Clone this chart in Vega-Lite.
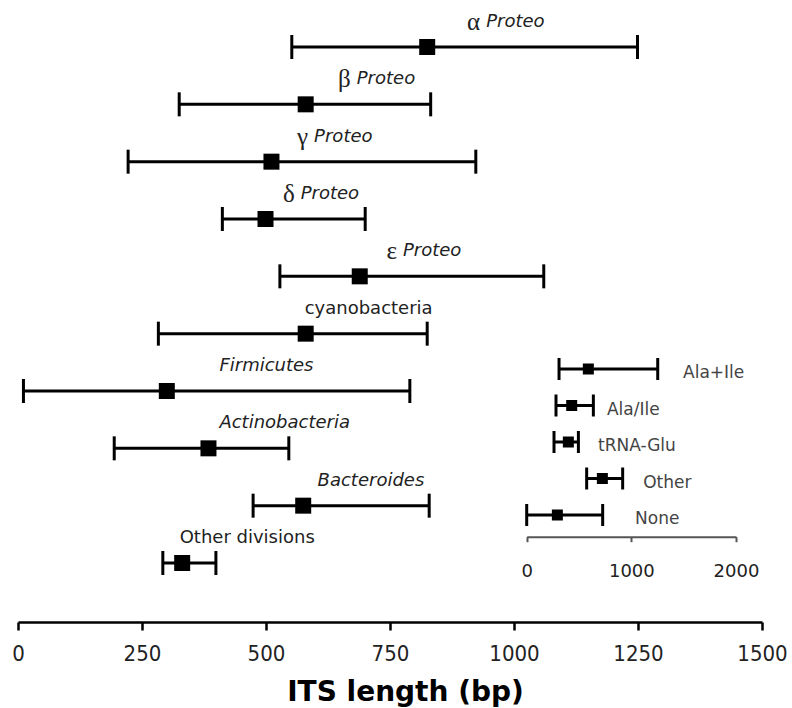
{
  "$schema": "https://vega.github.io/schema/vega-lite/v6.json",
  "width": 744,
  "height": 622,
  "autosize": {"type": "none"},
  "padding": {"left": 18, "top": 0, "right": 30, "bottom": 86},
  "background": "white",
  "config": {
    "view": {"stroke": null},
    "axis": {"grid": false}
  },
  "datasets": {
    "main": [
      {"group": "α Proteo", "greek": "α", "label": "Proteo", "low": 552, "mid": 825, "high": 1249, "lx": 944},
      {"group": "β Proteo", "greek": "β", "label": "Proteo", "low": 325, "mid": 580, "high": 832, "lx": 683},
      {"group": "γ Proteo", "greek": "γ", "label": "Proteo", "low": 222, "mid": 511, "high": 923, "lx": 597},
      {"group": "δ Proteo", "greek": "δ", "label": "Proteo", "low": 412, "mid": 499, "high": 700, "lx": 570},
      {"group": "ε Proteo", "greek": "ε", "label": "Proteo", "low": 528, "mid": 689, "high": 1060, "lx": 776},
      {"group": "cyanobacteria", "label": "cyanobacteria", "low": 283, "mid": 580, "high": 825, "lx": 578},
      {"group": "Firmicutes", "label": "Firmicutes", "low": 11, "mid": 300, "high": 790, "lx": 406},
      {"group": "Actinobacteria", "label": "Actinobacteria", "low": 194, "mid": 384, "high": 546, "lx": 406},
      {"group": "Bacteroides", "label": "Bacteroides", "low": 474, "mid": 575, "high": 829, "lx": 604},
      {"group": "Other divisions", "label": "Other divisions", "low": 292, "mid": 331, "high": 399, "lx": 326}
    ],
    "inset": [
      {"group": "Ala+Ile", "low": 309, "mid": 589, "high": 1252, "lx": 1494},
      {"group": "Ala/Ile", "low": 280, "mid": 430, "high": 637, "lx": 767},
      {"group": "tRNA-Glu", "low": 261, "mid": 398, "high": 494, "lx": 681},
      {"group": "Other", "low": 573, "mid": 723, "high": 917, "lx": 1113},
      {"group": "None", "low": 0, "mid": 293, "high": 726, "lx": 1035}
    ]
  },
  "layer": [
    {
      "data": {"name": "main"},
      "encoding": {
        "y": {"field": "group", "type": "nominal", "sort": null, "axis": null,
              "scale": {"type": "point", "range": [47, 563], "padding": 0}}
      },
      "layer": [
        {
          "mark": {"type": "rule", "color": "black", "strokeWidth": 3},
          "encoding": {
            "x": {"field": "low", "type": "quantitative",
                  "scale": {"domain": [0, 1500], "nice": false, "zero": false},
                  "axis": {
                    "values": [0, 250, 500, 750, 1000, 1250, 1500],
                    "format": "d",
                    "title": "ITS length (bp)",
                    "domainColor": "black", "domainWidth": 2.5,
                    "tickColor": "black", "tickWidth": 2.5, "tickSize": 8,
                    "labelFont": "DejaVu Sans Condensed, DejaVu Sans", "labelFontSize": 22,
                    "labelColor": "#222", "labelPadding": 13,
                    "labelFlush": false, "labelOverlap": false,
                    "titleFont": "DejaVu Sans", "titleFontWeight": "bold", "titleFontSize": 28,
                    "titleColor": "black", "titlePadding": 14, "titleX": 387
                  }},
            "x2": {"field": "high"}
          }
        },
        {
          "mark": {"type": "tick", "color": "black", "thickness": 3, "size": 24, "orient": "vertical", "opacity": 1},
          "encoding": {"x": {"field": "low", "type": "quantitative"}}
        },
        {
          "mark": {"type": "tick", "color": "black", "thickness": 3, "size": 24, "orient": "vertical", "opacity": 1},
          "encoding": {"x": {"field": "high", "type": "quantitative"}}
        },
        {
          "mark": {"type": "square", "color": "black", "filled": true, "size": 256, "opacity": 1},
          "encoding": {"x": {"field": "mid", "type": "quantitative"}}
        },
        {
          "transform": [{"filter": "isValid(datum.greek)"}],
          "mark": {"type": "text", "align": "right", "baseline": "middle", "dx": -6, "dy": -25,
                   "font": "Liberation Serif", "fontSize": 25, "color": "#222"},
          "encoding": {"x": {"field": "lx", "type": "quantitative"}, "text": {"field": "greek"}}
        },
        {
          "transform": [{"filter": {"field": "label", "oneOf": ["Proteo", "Firmicutes", "Actinobacteria", "Bacteroides"]}}],
          "mark": {"type": "text", "align": "left", "baseline": "middle", "dy": -25,
                   "font": "DejaVu Sans", "fontStyle": "italic", "fontSize": 18, "color": "#222"},
          "encoding": {"x": {"field": "lx", "type": "quantitative"}, "text": {"field": "label"}}
        },
        {
          "transform": [{"filter": {"field": "label", "oneOf": ["cyanobacteria", "Other divisions"]}}],
          "mark": {"type": "text", "align": "left", "baseline": "middle", "dy": -25,
                   "font": "DejaVu Sans", "fontSize": 18, "color": "#222"},
          "encoding": {"x": {"field": "lx", "type": "quantitative"}, "text": {"field": "label"}}
        }
      ]
    },
    {
      "data": {"name": "inset"},
      "encoding": {
        "y": {"field": "group", "type": "nominal", "sort": null, "axis": null,
              "scale": {"type": "point", "range": [369, 515], "padding": 0}}
      },
      "layer": [
        {
          "mark": {"type": "rule", "color": "black", "strokeWidth": 3},
          "encoding": {
            "x": {"field": "low", "type": "quantitative",
                  "scale": {"domain": [0, 2000], "range": [508.7, 718], "nice": false, "zero": false},
                  "axis": {
                    "orient": "bottom", "offset": -85.3,
                    "values": [0, 1000, 2000], "format": "d", "title": null,
                    "domainColor": "#555", "domainWidth": 2,
                    "tickColor": "#555", "tickWidth": 2, "tickSize": 5,
                    "labelFont": "DejaVu Sans", "labelFontSize": 18,
                    "labelColor": "#222", "labelPadding": 21,
                    "labelFlush": false, "labelOverlap": false
                  }},
            "x2": {"field": "high"}
          }
        },
        {
          "mark": {"type": "tick", "color": "black", "thickness": 3, "size": 22, "orient": "vertical", "opacity": 1},
          "encoding": {"x": {"field": "low", "type": "quantitative"}}
        },
        {
          "mark": {"type": "tick", "color": "black", "thickness": 3, "size": 22, "orient": "vertical", "opacity": 1},
          "encoding": {"x": {"field": "high", "type": "quantitative"}}
        },
        {
          "mark": {"type": "square", "color": "black", "filled": true, "size": 121, "opacity": 1},
          "encoding": {"x": {"field": "mid", "type": "quantitative"}}
        },
        {
          "mark": {"type": "text", "align": "left", "baseline": "middle", "dy": 4,
                   "font": "DejaVu Sans", "fontSize": 17, "color": "#444"},
          "encoding": {"x": {"field": "lx", "type": "quantitative"}, "text": {"field": "group"}}
        }
      ]
    }
  ],
  "resolve": {"scale": {"x": "independent", "y": "independent"}, "axis": {"x": "independent"}}
}
